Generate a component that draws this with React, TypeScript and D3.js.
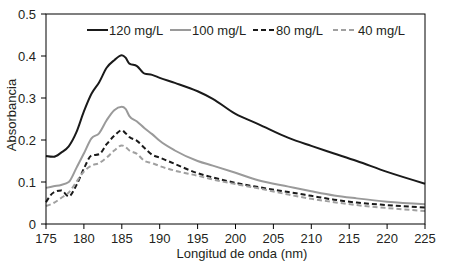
import React from "react";
import * as d3 from "d3";

const wavelengths = [175,176,177,178,179,180,181,182,183,184,185,185.5,186,187,188,189,190,192,195,197,200,203,207,210,213,216,220,225];
const s120 = [.162,.160,.170,.185,.218,.268,.310,.337,.372,.390,.402,.396,.382,.376,.358,.355,.348,.336,.316,.298,.262,.238,.205,.186,.168,.150,.124,.096];
const s100 = [.086,.090,.093,.100,.133,.168,.204,.216,.247,.271,.279,.274,.257,.244,.228,.214,.198,.175,.150,.139,.122,.104,.089,.078,.068,.061,.053,.047];
const s80 = [.052,.075,.080,.066,.092,.132,.163,.166,.190,.210,.223,.216,.207,.198,.181,.165,.158,.143,.121,.111,.098,.088,.076,.067,.058,.051,.045,.039];
const s40 = [.043,.050,.062,.075,.100,.125,.139,.145,.158,.175,.187,.183,.175,.167,.150,.145,.138,.127,.115,.106,.095,.085,.070,.060,.052,.045,.038,.031];

const seriesNames = ["120 mg/L", "100 mg/L", "80 mg/L", "40 mg/L"];
const seriesValues = [s120, s100, s80, s40];
const seriesColors = ["#1a1a1a", "#9a9a9a", "#1a1a1a", "#a0a0a0"];
const seriesDash = ["", "", "5,3", "5,3"];

const xTicks = [175,180,185,190,195,200,205,210,215,220,225];
const yTicks = [0,0.1,0.2,0.3,0.4,0.5];

const W = 452, H = 265;
const L = 46, R = 425, T = 14, B = 224;
const FONT = "'Liberation Sans', Arial, sans-serif";
const TXT = "#231f20";

export default function App() {
  const x = d3.scaleLinear().domain([175, 225]).range([L, R]);
  const y = d3.scaleLinear().domain([0, 0.5]).range([B, T]);
  const line = d3.line<number>()
    .x((_, i) => x(wavelengths[i]))
    .y((d) => y(d))
    .curve(d3.curveMonotoneX);

  const legendX = [87, 170, 253, 333];
  const legendLen = [21, 21, 22, 24];
  const legendY = 30;

  return (
    <div style={{ position: "fixed", left: 0, top: 0 }}>
      <svg width={W} height={H} style={{ display: "block", background: "#fff" }} fontFamily={FONT}>
        {seriesValues.map((vals, k) => (
          <path key={k} d={line(vals) || ""} fill="none" stroke={seriesColors[k]}
            strokeWidth={2} strokeDasharray={seriesDash[k] || undefined} strokeLinejoin="round" />
        ))}
        <rect x={L} y={T} width={R - L} height={B - T} fill="none" stroke="#000" strokeWidth={1} />
        {yTicks.map((t) => (
          <g key={t}>
            <line x1={L - 5} x2={L} y1={y(t)} y2={y(t)} stroke="#000" />
            <text x={L - 10} y={y(t)} dy="0.35em" textAnchor="end" fontSize={13} fill={TXT}>{t === 0 ? "0" : t.toFixed(1)}</text>
          </g>
        ))}
        {xTicks.map((t) => (
          <g key={t}>
            <line x1={x(t)} x2={x(t)} y1={B} y2={B + 5} stroke="#000" />
            <text x={x(t)} y={243} textAnchor="middle" fontSize={13} fill={TXT}>{t}</text>
          </g>
        ))}
        <text x={242} y={258} textAnchor="middle" fontSize={13} fill={TXT}>Longitud de onda (nm)</text>
        <text transform={`translate(16,115) rotate(-90)`} textAnchor="middle" fontSize={13} fill={TXT}>Absorbancia</text>
        {seriesNames.map((n, k) => (
          <g key={n}>
            <line x1={legendX[k]} x2={legendX[k] + legendLen[k]} y1={legendY} y2={legendY}
              stroke={seriesColors[k]} strokeWidth={2} strokeDasharray={seriesDash[k] || undefined} />
            <text x={legendX[k] + legendLen[k] + 1} y={legendY} dy="0.35em" fontSize={13} fill={TXT}>{n}</text>
          </g>
        ))}
      </svg>
    </div>
  );
}
